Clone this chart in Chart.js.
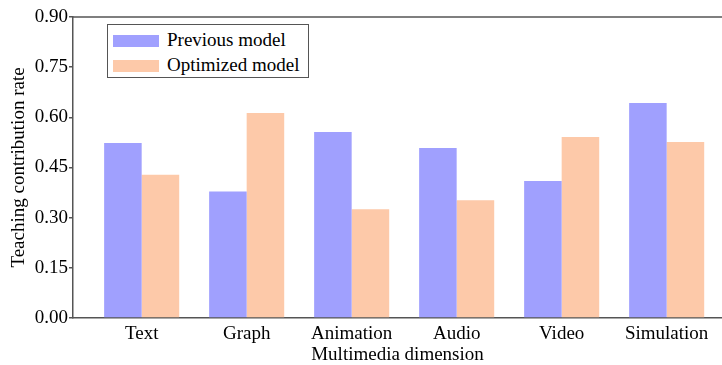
<!DOCTYPE html>
<html>
<head>
<meta charset="utf-8">
<script src="https://cdn.jsdelivr.net/npm/chart.js@4"></script>
<style>
  html, body { margin: 0; padding: 0; background: #fff; }
  #wrap { position: relative; width: 722px; height: 365px; }
  #legend {
    position: absolute; left: 107px; top: 24px; width: 200px; height: 52px;
    border: 1.5px solid #555; background: #fff;
    font-family: 'Liberation Serif', 'Times New Roman', serif; font-size: 19px; color: #000;
  }
  .item { position: absolute; left: 5px; height: 20px; line-height: 20px; white-space: nowrap; }
  .sw { display: inline-block; width: 46px; height: 12px; vertical-align: middle; margin-right: 8px; position: relative; top: -1px; }
</style>
</head>
<body>
<div id="wrap">
  <canvas id="c" width="722" height="365"></canvas>
  <div id="legend"></div>
</div>
<script>
'use strict';

const categories = ['Text', 'Graph', 'Animation', 'Audio', 'Video', 'Simulation'];
const previousModel = [0.523, 0.378, 0.556, 0.508, 0.410, 0.643];
const optimizedModel = [0.428, 0.613, 0.325, 0.352, 0.541, 0.526];
const yTicks = [0, 0.15, 0.30, 0.45, 0.60, 0.75, 0.90];

const blue = '#a0a0fe';
const peach = '#fdc9a9';
const serif = "'Liberation Serif', 'Times New Roman', serif";

const toPoints = vals => vals.map((v, i) => ({ x: i, y: v }));

const topLine = {
  id: 'topLine',
  afterDraw(chart) {
    const { ctx, chartArea } = chart;
    ctx.save();
    ctx.strokeStyle = '#555';
    ctx.lineWidth = 1.5;
    ctx.beginPath();
    ctx.moveTo(chartArea.left, chartArea.top);
    ctx.lineTo(chartArea.right, chartArea.top);
    ctx.stroke();
    ctx.restore();
  }
};

new Chart(document.getElementById('c'), {
  type: 'bar',
  data: {
    datasets: [
      { label: 'Previous model', data: toPoints(previousModel), backgroundColor: blue, categoryPercentage: 0.715, barPercentage: 1 },
      { label: 'Optimized model', data: toPoints(optimizedModel), backgroundColor: peach, categoryPercentage: 0.715, barPercentage: 1 },
    ]
  },
  options: {
    responsive: false,
    animation: false,
    layout: { padding: { top: 17, right: 0, left: 0, bottom: 0 } },
    plugins: { legend: { display: false }, tooltip: { enabled: false } },
    scales: {
      x: {
        type: 'linear',
        offset: false,
        min: -0.654,
        max: 5.527,
        grid: { display: false, drawTicks: false, tickLength: 0 },
        border: { color: '#555', width: 1.5 },
        ticks: {
          stepSize: 1,
          includeBounds: false,
          autoSkip: false,
          maxRotation: 0,
          padding: 5,
          color: '#000',
          font: { family: serif, size: 19 },
          callback: v => categories[v] || ''
        },
        title: { display: true, text: 'Multimedia dimension', color: '#000', font: { family: serif, size: 19, lineHeight: 1 }, padding: { top: 0, bottom: 0 } },
        afterFit: s => { s.height = 47; }
      },
      y: {
        min: 0,
        max: 0.9,
        afterBuildTicks: s => { s.ticks = yTicks.map(v => ({ value: v })); },
        grid: { drawOnChartArea: false, tickLength: 4, color: '#555', lineWidth: 1.5 },
        border: { color: '#555', width: 1.5 },
        ticks: {
          padding: 1,
          color: '#000',
          font: { family: serif, size: 19 },
          callback: v => v.toFixed(2)
        },
        title: { display: true, text: 'Teaching contribution rate', color: '#000', font: { family: serif, size: 19 }, padding: { top: 8, bottom: 0 } },
        afterFit: s => { s.width = 73; }
      }
    }
  },
  plugins: [topLine]
});

const legend = document.getElementById('legend');
[['Previous model', blue], ['Optimized model', peach]].forEach(([label, color], i) => {
  const d = document.createElement('div');
  d.className = 'item';
  d.style.top = (i === 0 ? 5 : 30) + 'px';
  d.innerHTML = '<span class="sw" style="background:' + color + '"></span>' + label;
  legend.appendChild(d);
});
</script>
</body>
</html>
